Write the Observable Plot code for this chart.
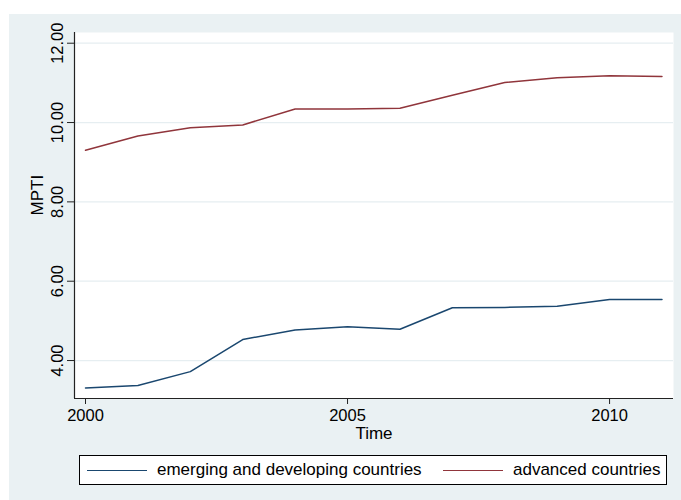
<!DOCTYPE html>
<html>
<head>
<meta charset="utf-8">
<script src="https://cdn.jsdelivr.net/npm/d3@7"></script>
<script src="https://cdn.jsdelivr.net/npm/@observablehq/plot@0.6"></script>
<style>
  html, body { margin: 0; padding: 0; background: #ffffff; }
  #page { position: relative; width: 681px; height: 500px; overflow: hidden; background: #ffffff;
          font-family: "Liberation Sans", Arial, Helvetica, sans-serif; }
  #bg { position: absolute; left: 9px; top: 14px; width: 672px; height: 486px; background: #eaf1f3; }
  #chart { position: absolute; left: 0; top: 0; }
  #legend { position: absolute; left: 79px; top: 455px; width: 588px; height: 30px; box-sizing: border-box;
            border: 1px solid #000; background: #fff; font-size: 17px; color: #000; }
  .sw { position: absolute; top: 14px; width: 60px; height: 0; border-top: 1.5px solid; }
  .lt { position: absolute; top: 4px; white-space: nowrap; line-height: 20px; }
</style>
</head>
<body>
<div id="page">
  <div id="bg"></div>
  <div id="chart"></div>
  <div id="legend"></div>
</div>
<script>
const years = [2000, 2001, 2002, 2003, 2004, 2005, 2006, 2007, 2008, 2009, 2010, 2011];
const emerging = [3.31, 3.37, 3.72, 4.53, 4.77, 4.85, 4.79, 5.33, 5.34, 5.37, 5.54, 5.54];
const advanced = [9.30, 9.66, 9.87, 9.94, 10.34, 10.34, 10.36, 10.69, 11.01, 11.13, 11.18, 11.16];
const seriesNames = ["emerging and developing countries", "advanced countries"];
const seriesColors = ["#1a476f", "#90353b"];
const xTicks = [2000, 2005, 2010];
const yTicks = [4, 6, 8, 10, 12];
const xLabel = "Time";
const yLabel = "MPTI";

const data = [];
years.forEach((y, i) => {
  data.push({year: y, value: emerging[i], series: seriesNames[0]});
  data.push({year: y, value: advanced[i], series: seriesNames[1]});
});

const xDomain = [1999.79, 2011.22];
const yDomain = [3.043, 12.27];

const chart = Plot.plot({
  width: 681,
  height: 445,
  marginLeft: 74,
  marginRight: 8,
  marginTop: 32,
  marginBottom: 47,
  style: {background: "transparent", fontSize: "16.5px", fontFamily: "'Liberation Sans', Arial, Helvetica, sans-serif", color: "#000"},
  x: {domain: xDomain},
  y: {domain: yDomain},
  color: {domain: seriesNames, range: seriesColors},
  marks: [
    Plot.frame({fill: "white", stroke: "none"}),
    Plot.gridY(yTicks, {stroke: "#e6eef1", strokeOpacity: 1, strokeWidth: 1.2}),
    Plot.line(data, {x: "year", y: "value", z: "series", stroke: "series", strokeWidth: 1.5}),
    Plot.ruleX([xDomain[0]], {stroke: "#222", strokeWidth: 1.2}),
    Plot.ruleY([yDomain[0]], {stroke: "#222", strokeWidth: 1.2}),
    Plot.axisX({ticks: xTicks, tickFormat: d => String(d), tickSize: 6, tickPadding: 5, label: null, stroke: "#222"}),
    Plot.axisY({ticks: yTicks, tickFormat: d3.format(".2f"), tickSize: 7, tickPadding: 5, tickRotate: -90, label: null, stroke: "#222"}),
    Plot.text([xLabel], {frameAnchor: "bottom", dy: 40, text: d => d, fontSize: 17, fill: "#000"}),
    Plot.text([yLabel], {frameAnchor: "left", dx: -37, rotate: -90, text: d => d, fontSize: 17, fill: "#000"})
  ]
});
document.getElementById("chart").appendChild(chart);

const legend = document.getElementById("legend");
const swX = [7, 363];
const txX = [77, 433];
seriesNames.forEach((name, i) => {
  const sw = document.createElement("div");
  sw.className = "sw";
  sw.style.left = swX[i] + "px";
  sw.style.borderTopColor = seriesColors[i];
  legend.appendChild(sw);
  const t = document.createElement("div");
  t.className = "lt";
  t.style.left = txX[i] + "px";
  t.textContent = name;
  legend.appendChild(t);
});
</script>
</body>
</html>
